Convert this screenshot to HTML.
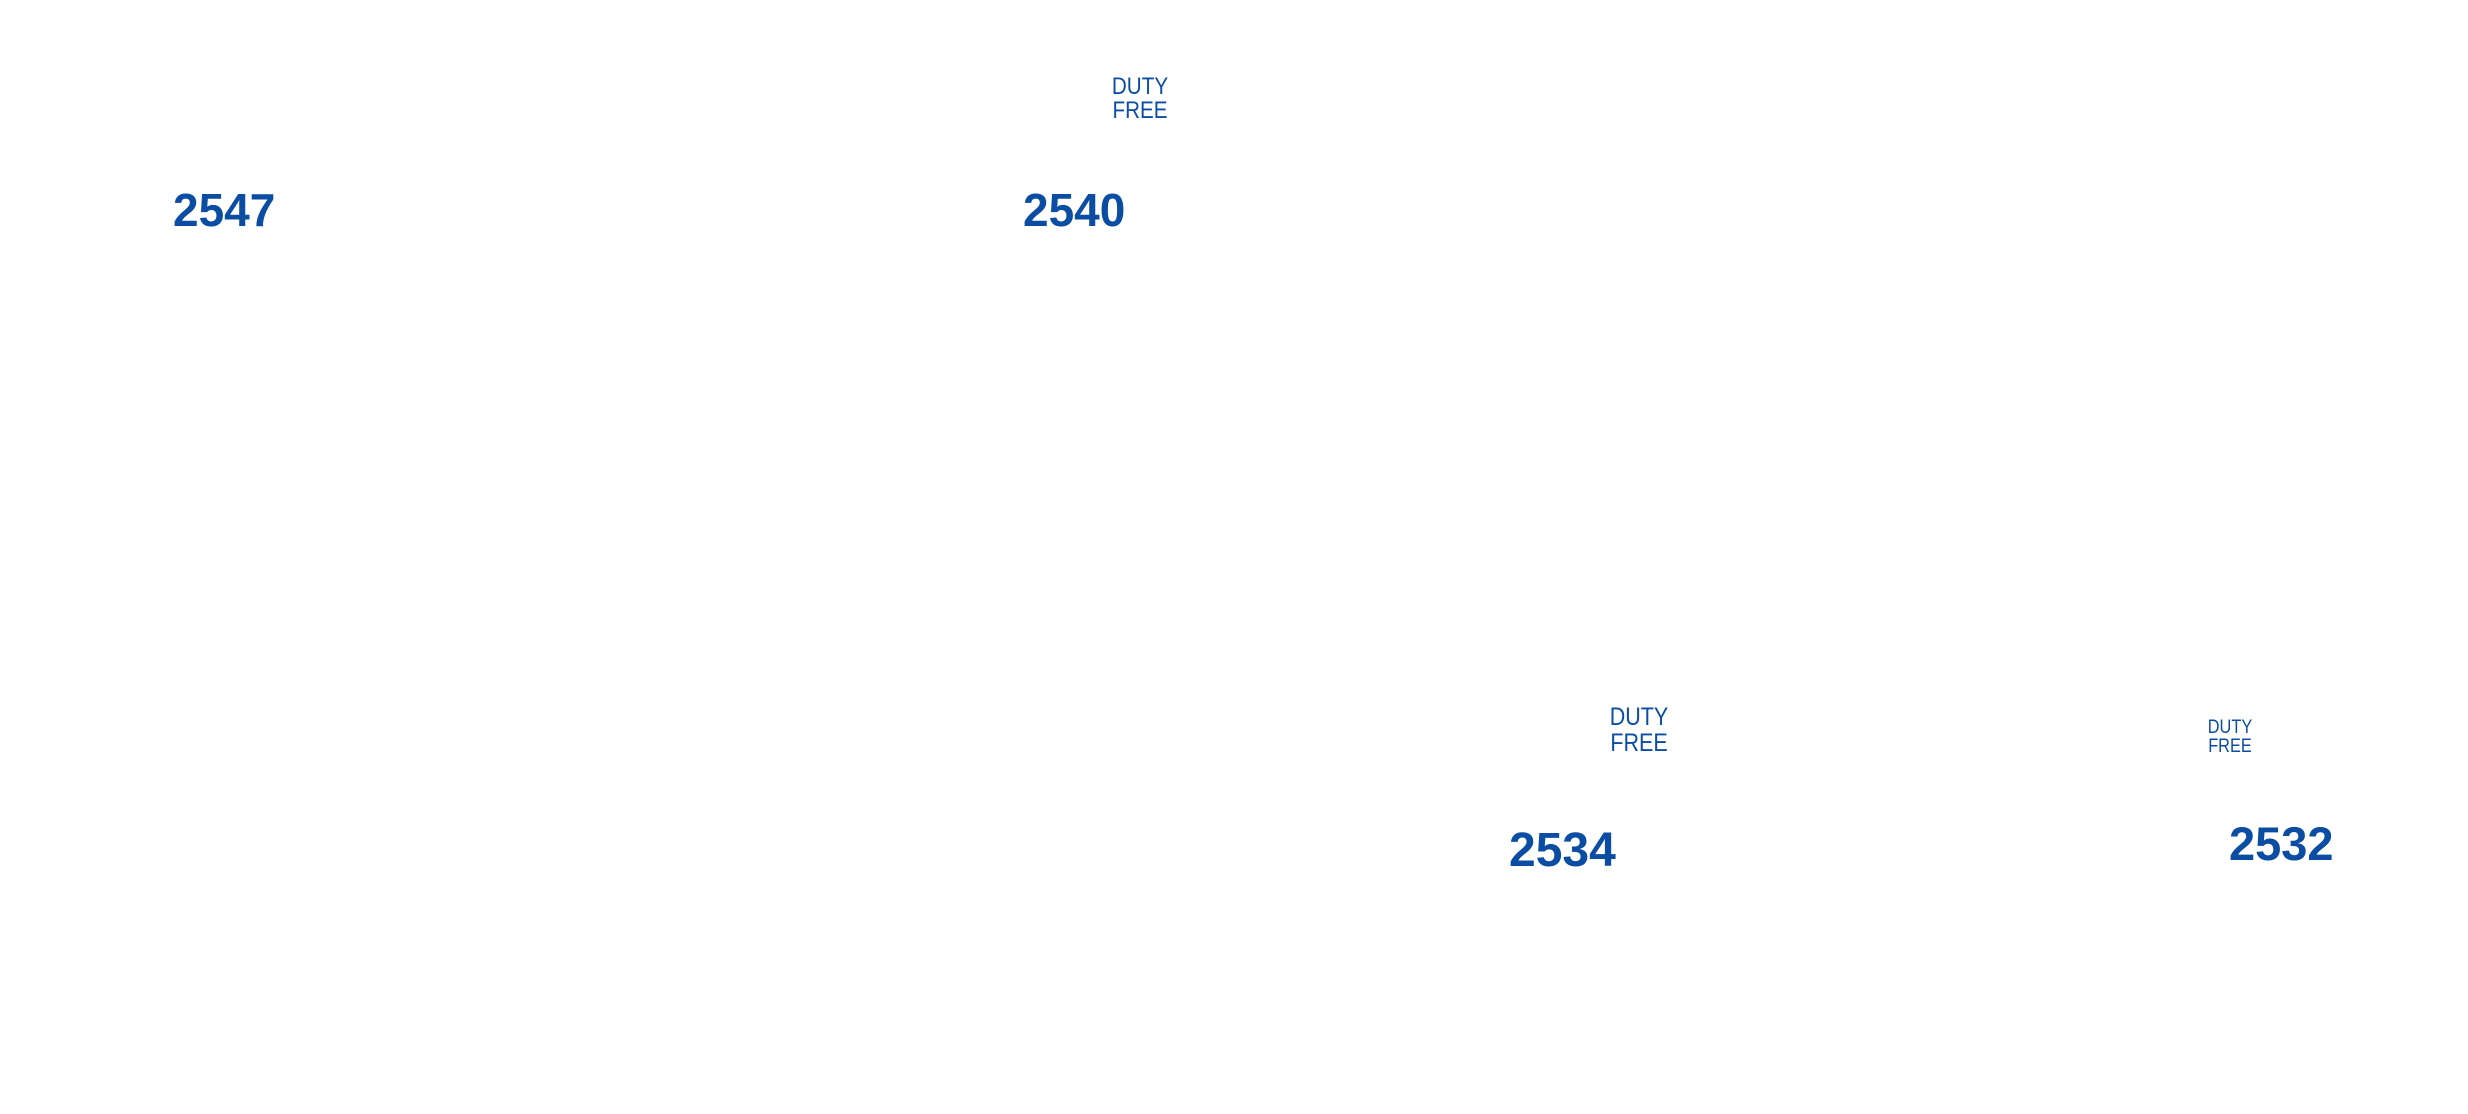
<!DOCTYPE html>
<html><head><meta charset="utf-8"><style>
html,body{margin:0;padding:0;background:#fff;}
body{width:2468px;height:1114px;position:relative;overflow:hidden;font-family:"Liberation Sans",sans-serif;color:#0b4da2;}
.n{position:absolute;font-weight:bold;line-height:1;white-space:nowrap;}
.d{position:absolute;width:200px;text-align:center;white-space:nowrap;transform:scaleX(0.86);}
</style></head><body>
<div class="n" style="left:173px;top:187px;font-size:46px;">2547</div>
<div class="n" style="left:1023px;top:187px;font-size:46px;">2540</div>
<div class="n" style="left:1509px;top:827px;font-size:48px;">2534</div>
<div class="n" style="left:2229px;top:820px;font-size:47px;">2532</div>
<div class="d" style="left:1040px;top:75px;font-size:24px;line-height:24px;">DUTY<br>FREE</div>
<div class="d" style="left:1539px;top:704px;font-size:25px;line-height:26px;">DUTY<br>FREE</div>
<div class="d" style="left:2130px;top:718px;font-size:19px;line-height:19px;">DUTY<br>FREE</div>
</body></html>
